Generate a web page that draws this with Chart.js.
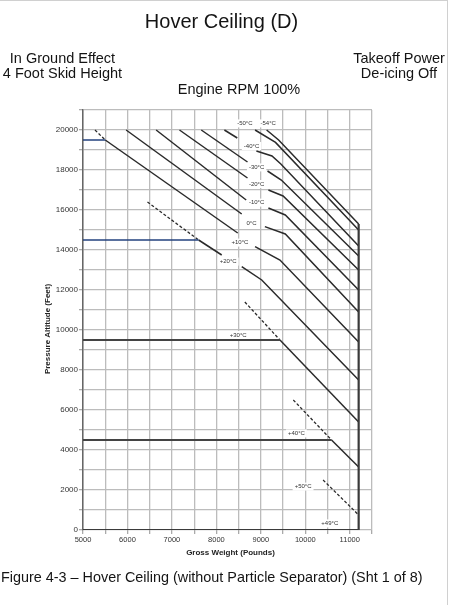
<!DOCTYPE html>
<html>
<head>
<meta charset="utf-8">
<title>Hover Ceiling (D)</title>
<script src="https://cdn.jsdelivr.net/npm/chart.js@4.4.0/dist/chart.umd.min.js"></script>
<style>
  html, body { margin: 0; padding: 0; background: #fff; }
  body { width: 450px; height: 605px; position: relative; overflow: hidden;
         font-family: Arial, "Liberation Sans", sans-serif; color: #141414; }
  canvas { position: absolute; left: 0; top: 0; }
  .t { position: absolute; line-height: 1; white-space: nowrap; z-index: 2; }
  .frame { position: absolute; left: 0; top: 0; width: 447px; height: 604px;
           border-top: 1px solid #d0d0d0; border-right: 1px solid #d0d0d0; }
</style>
</head>
<body>
<div class="frame"></div>
<canvas id="hoverChart" width="450" height="605"></canvas>

<div class="t" style="left:0;width:443px;text-align:center;top:11px;font-size:20px;">Hover Ceiling (D)</div>
<div class="t" style="left:0;width:125px;text-align:center;top:50.5px;font-size:14.5px;">In Ground Effect</div>
<div class="t" style="left:0;width:125px;text-align:center;top:66px;font-size:14.5px;">4 Foot Skid Height</div>
<div class="t" style="left:349px;width:100px;text-align:center;top:50.5px;font-size:14.5px;">Takeoff Power</div>
<div class="t" style="left:349px;width:100px;text-align:center;top:66px;font-size:14.5px;">De-icing Off</div>
<div class="t" style="left:139px;width:200px;text-align:center;top:81.5px;font-size:14.5px;">Engine RPM 100%</div>
<div class="t" style="left:1px;top:569.5px;font-size:14.4px;">Figure 4-3 – Hover Ceiling (without Particle Separator) (Sht 1 of 8)</div>

<script>
// axis ticks
const weightTicks = [5000, 6000, 7000, 8000, 9000, 10000, 11000];
const altitudeTicks = [0, 2000, 4000, 6000, 8000, 10000, 12000, 14000, 16000, 18000, 20000];

// temperature lines: [gross weight (lb), pressure altitude (ft)]
const minus54 = [[9130, 20000], [9400, 19500], [11200, 15300]];
const minus50 = [[8870, 20000], [9330, 19380], [11200, 15000]];
const minus40Left = [[8180, 20000], [8470, 19600]];
const minus40Right = [[8900, 18950], [9250, 18700], [9450, 18300], [11200, 14200]];
const minus30Left = [[7660, 20000], [8700, 18400]];
const minus30Right = [[9150, 17950], [9460, 17500], [11200, 13700]];
const minus20Left = [[7170, 20000], [8700, 17600]];
const minus20Right = [[9170, 17000], [9500, 16700], [11200, 13000]];
const minus10Left = [[6645, 20000], [8670, 16500]];
const minus10Right = [[9170, 16100], [9550, 15750], [11200, 12000]];
const zeroLeft = [[5970, 20000], [8570, 15800]];
const zeroRight = [[9090, 15170], [9550, 14800], [11200, 10900]];
const plus10Dash = [[5270, 20000], [5500, 19500]];
const plus10Left = [[5500, 19500], [8480, 14850]];
const plus10Right = [[8870, 14170], [9430, 13500], [11200, 9400]];
const plus20Dash = [[6450, 16400], [7600, 14500]];
const plus20Left = [[7600, 14500], [8120, 13750]];
const plus20Right = [[8570, 13170], [9020, 12500], [11200, 7500]];
const plus30Dash = [[8640, 11400], [9430, 9500]];
const plus30Solid = [[9430, 9500], [11200, 5400]];
const plus40Dash = [[9730, 6500], [10590, 4500]];
const plus40Solid = [[10590, 4500], [11200, 3150]];
const plus49Dash = [[10400, 2500], [11200, 750]];
// max gross weight limit and base line
const limitLine = [[5000, 0], [11200, 0], [11200, 15300]];

// example reading lines
const exampleBlue1 = [[5000, 19500], [5500, 19500]];
const exampleBlue2 = [[5000, 14500], [7600, 14500]];
const exampleGray1 = [[5000, 9500], [9430, 9500]];
const exampleGray2 = [[5000, 4500], [10590, 4500]];

// temperature labels
const tempLabels = ['-50°C', '-54°C', '-40°C', '-30°C', '-20°C', '-10°C', '0°C', '+10°C', '+20°C', '+30°C', '+40°C', '+50°C', '+49°C'];
const labelWeight = [8640, 9165, 8790, 8905, 8905, 8905, 8790, 8530, 8265, 8490, 9800, 9950, 10550];
const labelAltitude = [20330, 20330, 19200, 18130, 17300, 16370, 15330, 14370, 13420, 9750, 4830, 2170, 330];

const FONT = 'Arial, "Liberation Sans", sans-serif';

function line(points, opts) {
  return Object.assign({
    data: points.map((p) => ({ x: p[0], y: p[1] })),
    showLine: true,
    pointRadius: 0,
    borderColor: '#2a2a2a',
    borderWidth: 1.5,
    fill: false,
    tension: 0,
  }, opts || {});
}
const dashed = { borderDash: [3, 2], borderWidth: 1.3 };

const datasets = [
  line(limitLine, { borderWidth: 2.2, borderColor: '#3a3a3a' }),
  line(exampleBlue1, { borderColor: '#23427e' }),
  line(exampleBlue2, { borderColor: '#23427e' }),
  line(exampleGray1, { borderColor: '#444', borderWidth: 1.8 }),
  line(exampleGray2, { borderColor: '#444', borderWidth: 1.8 }),
  line(minus54), line(minus50),
  line(minus40Left), line(minus40Right),
  line(minus30Left), line(minus30Right),
  line(minus20Left), line(minus20Right),
  line(minus10Left), line(minus10Right),
  line(zeroLeft), line(zeroRight),
  line(plus10Dash, dashed), line(plus10Left), line(plus10Right),
  line(plus20Dash, dashed), line(plus20Left), line(plus20Right),
  line(plus30Dash, dashed), line(plus30Solid),
  line(plus40Dash, dashed), line(plus40Solid),
  line(plus49Dash, dashed),
];

// temperature labels with a white box behind them
const tempLabelPlugin = {
  id: 'tempLabels',
  beforeDatasetsDraw(chart) {
    const { ctx, scales: { x, y } } = chart;
    ctx.save();
    ctx.font = '6px ' + FONT;
    ctx.textAlign = 'center';
    ctx.textBaseline = 'middle';
    tempLabels.forEach((txt, i) => {
      const px = x.getPixelForValue(labelWeight[i]);
      const py = y.getPixelForValue(labelAltitude[i]);
      const w = ctx.measureText(txt).width;
      ctx.fillStyle = '#fff';
      ctx.fillRect(px - w / 2 - 2, py - 4, w + 4, 8);
      ctx.fillStyle = '#333';
      ctx.fillText(txt, px, py);
    });
    ctx.restore();
  },
};

// axis titles
const axisTitlePlugin = {
  id: 'axisTitles',
  afterDraw(chart) {
    const { ctx, chartArea } = chart;
    ctx.save();
    ctx.font = 'bold 8px ' + FONT;
    ctx.fillStyle = '#222';
    ctx.textAlign = 'center';
    ctx.textBaseline = 'middle';
    ctx.fillText('Gross Weight (Pounds)', (chartArea.left + chartArea.right) / 2 + 3, chartArea.bottom + 23);
    ctx.translate(chartArea.left - 35, (chartArea.top + chartArea.bottom) / 2 + 9);
    ctx.rotate(-Math.PI / 2);
    ctx.fillText('Pressure Altitude (Feet)', 0, 0);
    ctx.restore();
  },
};

new Chart(document.getElementById('hoverChart').getContext('2d'), {
  type: 'scatter',
  data: { datasets },
  options: {
    responsive: false,
    animation: false,
    layout: { padding: { top: 110, right: 78, bottom: 45, left: 0 } },
    plugins: {
      legend: { display: false },
      tooltip: { enabled: false },
    },
    scales: {
      x: {
        type: 'linear',
        min: 5000,
        max: 11500,
        afterFit(scale) { scale.height = 30; },
        ticks: {
          stepSize: 500,
          autoSkip: false,
          maxRotation: 0,
          padding: 1,
          color: '#333',
          font: { family: FONT, size: 7.5 },
          callback: (v) => (weightTicks.includes(v) ? String(v) : ''),
        },
        grid: { color: '#bcbcbc', lineWidth: 1.3, tickLength: 4, tickColor: '#aaa' },
        border: { display: false },
      },
      y: {
        type: 'linear',
        min: 0,
        max: 21000,
        afterFit(scale) { scale.width = 83; },
        ticks: {
          stepSize: 1000,
          autoSkip: false,
          padding: 1,
          color: '#333',
          font: { family: FONT, size: 8 },
          callback: (v) => (altitudeTicks.includes(v) ? String(v) : ''),
        },
        grid: { color: '#bcbcbc', lineWidth: 1.3, tickLength: 4, tickColor: '#aaa' },
        border: { color: '#666', width: 1.5 },
      },
    },
  },
  plugins: [tempLabelPlugin, axisTitlePlugin],
});
</script>
</body>
</html>
